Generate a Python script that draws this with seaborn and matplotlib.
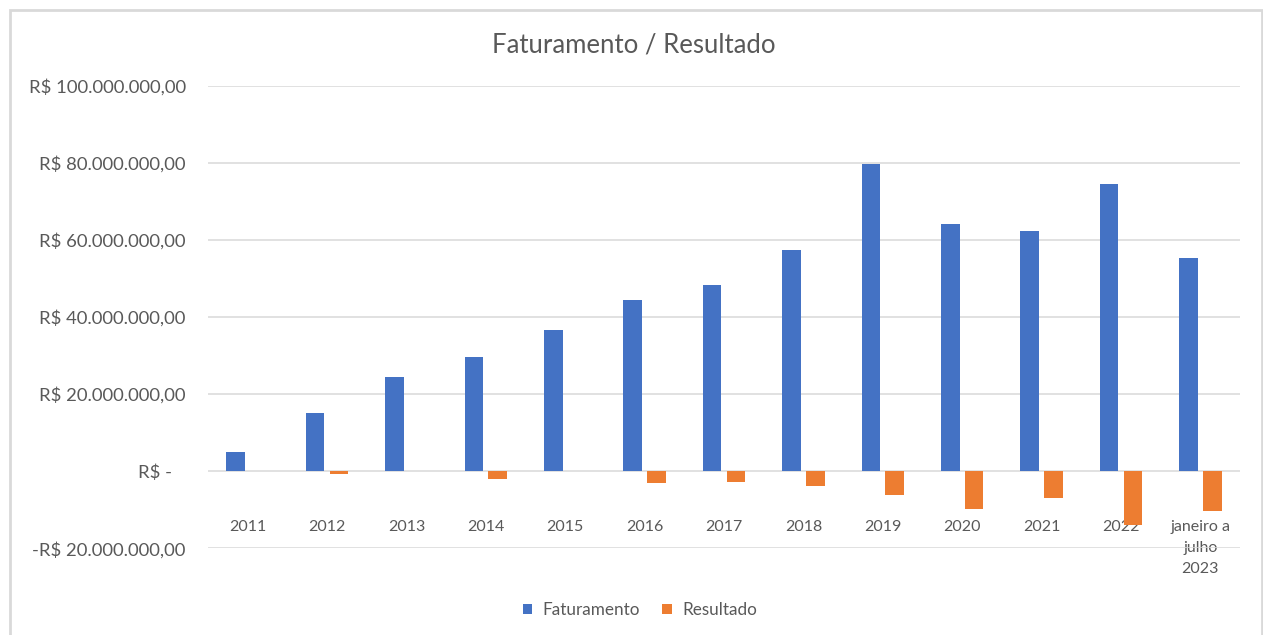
import matplotlib
matplotlib.use("Agg")
import matplotlib.pyplot as plt
import seaborn as sns
import pandas as pd
from matplotlib.ticker import FuncFormatter, FixedLocator
from matplotlib.patches import Rectangle, Patch

categorias = ["2011", "2012", "2013", "2014", "2015", "2016", "2017", "2018",
              "2019", "2020", "2021", "2022", "janeiro a\njulho\n2023"]
faturamento = [5.0e6, 15.0e6, 24.5e6, 29.5e6, 36.6e6, 44.5e6, 48.2e6, 57.5e6,
               79.7e6, 64.1e6, 62.2e6, 74.6e6, 55.2e6]
resultado = [0.0, -0.8e6, 0.0, -2.0e6, 0.0, -3.1e6, -2.9e6, -3.9e6,
             -6.3e6, -9.7e6, -6.9e6, -14.0e6, -10.3e6]
series = ["Faturamento", "Resultado"]
cores = ["#4472C4", "#ED7D31"]

df = pd.DataFrame({
    "cat": categorias * 2,
    "valor": faturamento + resultado,
    "serie": [series[0]] * len(categorias) + [series[1]] * len(categorias),
})

sns.set_theme(style="white")
plt.rcParams["font.family"] = ["Lato", "DejaVu Sans"]
TXT = "#595959"

fig = plt.figure(figsize=(12.63, 6.35), dpi=100)
W, H = 1263, 635
ax = fig.add_axes([208 / W, 1 - 548.3 / H, (1240 - 208) / W, (548.3 - 85.7) / H])

sns.barplot(data=df, x="cat", y="valor", hue="serie", order=categorias,
            hue_order=series, palette=cores, width=0.6, gap=0.22,
            saturation=1, ax=ax, legend=False, errorbar=None, linewidth=0)

ax.set_ylim(-20e6, 100e6)
ax.set_xlim(-0.5, len(categorias) - 0.5)
ax.yaxis.set_major_locator(FixedLocator([-20e6, 0, 20e6, 40e6, 60e6, 80e6, 100e6]))


def fmt(v, pos=None):
    if abs(v) < 1:
        return "R$ -   "
    s = f"{abs(v):,.2f}".replace(",", "X").replace(".", ",").replace("X", ".")
    return ("-R$ " if v < 0 else "R$ ") + s


ax.yaxis.set_major_formatter(FuncFormatter(fmt))
ax.grid(axis="y", color="#D9D9D9", linewidth=1.1)
ax.set_axisbelow(True)
for s in ax.spines.values():
    s.set_visible(False)
ax.spines["bottom"].set_position(("data", 0))
ax.set_xlabel("")
ax.set_ylabel("")
ax.tick_params(axis="y", length=0, pad=16, labelsize=13.3, labelcolor=TXT)
ax.tick_params(axis="x", length=0, pad=35, labelsize=11.5, labelcolor=TXT)
for lab in ax.get_xticklabels():
    lab.set_linespacing(1.65)

fig.text(634 / W, 1 - 45 / H, "Faturamento / Resultado", ha="center",
         va="center", fontsize=18.5, color=TXT)

handles = [Patch(facecolor=c, edgecolor="none") for c in cores]
fig.legend(handles, series, loc="center", bbox_to_anchor=(640 / W, 1 - 610 / H),
           ncol=2, frameon=False, fontsize=12.3, labelcolor=TXT,
           handlelength=0.55, handleheight=0.55, handletextpad=0.6,
           columnspacing=1.3)

fig.patches.append(Rectangle((9.5 / W, -0.1), (1261.5 - 9.5) / W, 1.1 - 9.5 / H,
                             transform=fig.transFigure, fill=False,
                             edgecolor="#D9D9D9", linewidth=2))

fig.savefig("out.png", dpi=100, facecolor="white")
